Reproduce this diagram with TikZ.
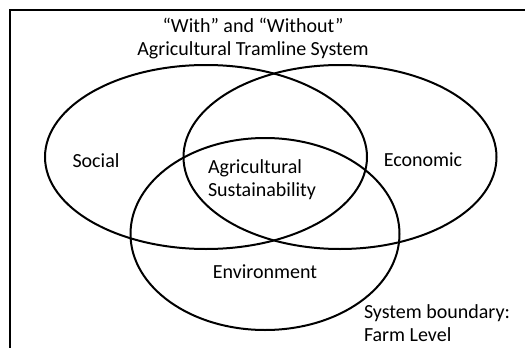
\documentclass[tikz,border=0pt]{standalone}
\usepackage{fontspec}
\setmainfont{Carlito}
\usetikzlibrary{shapes.geometric}

\begin{document}
\begin{tikzpicture}[x=1pt, y=-1pt, line width=2pt,
    font=\fontsize{20}{22.5}\selectfont]
    \useasboundingbox (0,0) rectangle (525,348);
    \clip (0,0) rectangle (525,348);
    \draw (10,10) rectangle (545,370);

    \node [ellipse, draw, inner sep=0, minimum width=322, minimum height=184] (social) at (206,157) {};
    \node [ellipse, draw, inner sep=0, minimum width=313, minimum height=184] (economic) at (340,157) {};
    \node [ellipse, draw, inner sep=0, minimum width=269, minimum height=192] (environment) at (265,234) {};

    % multi-line nodes sit on the baseline of their last line
    \node [anchor=base, align=center, inner sep=0] (title) at (253,55) {“With” and “Without”\\Agricultural Tramline System};
    \node [anchor=base, inner sep=0] (sociallabel) at (96,167) {Social};
    \node [anchor=base, inner sep=0] (economiclabel) at (423,166) {Economic};
    \node [anchor=base west, align=left, inner sep=0] (core) at (207,196) {Agricultural\\Sustainability};
    \node [anchor=base, inner sep=0] (environmentlabel) at (265,278) {Environment};
    \node [anchor=base west, align=left, inner sep=0] (boundary) at (363,341) {System boundary:\\Farm Level};
\end{tikzpicture}
\end{document}
